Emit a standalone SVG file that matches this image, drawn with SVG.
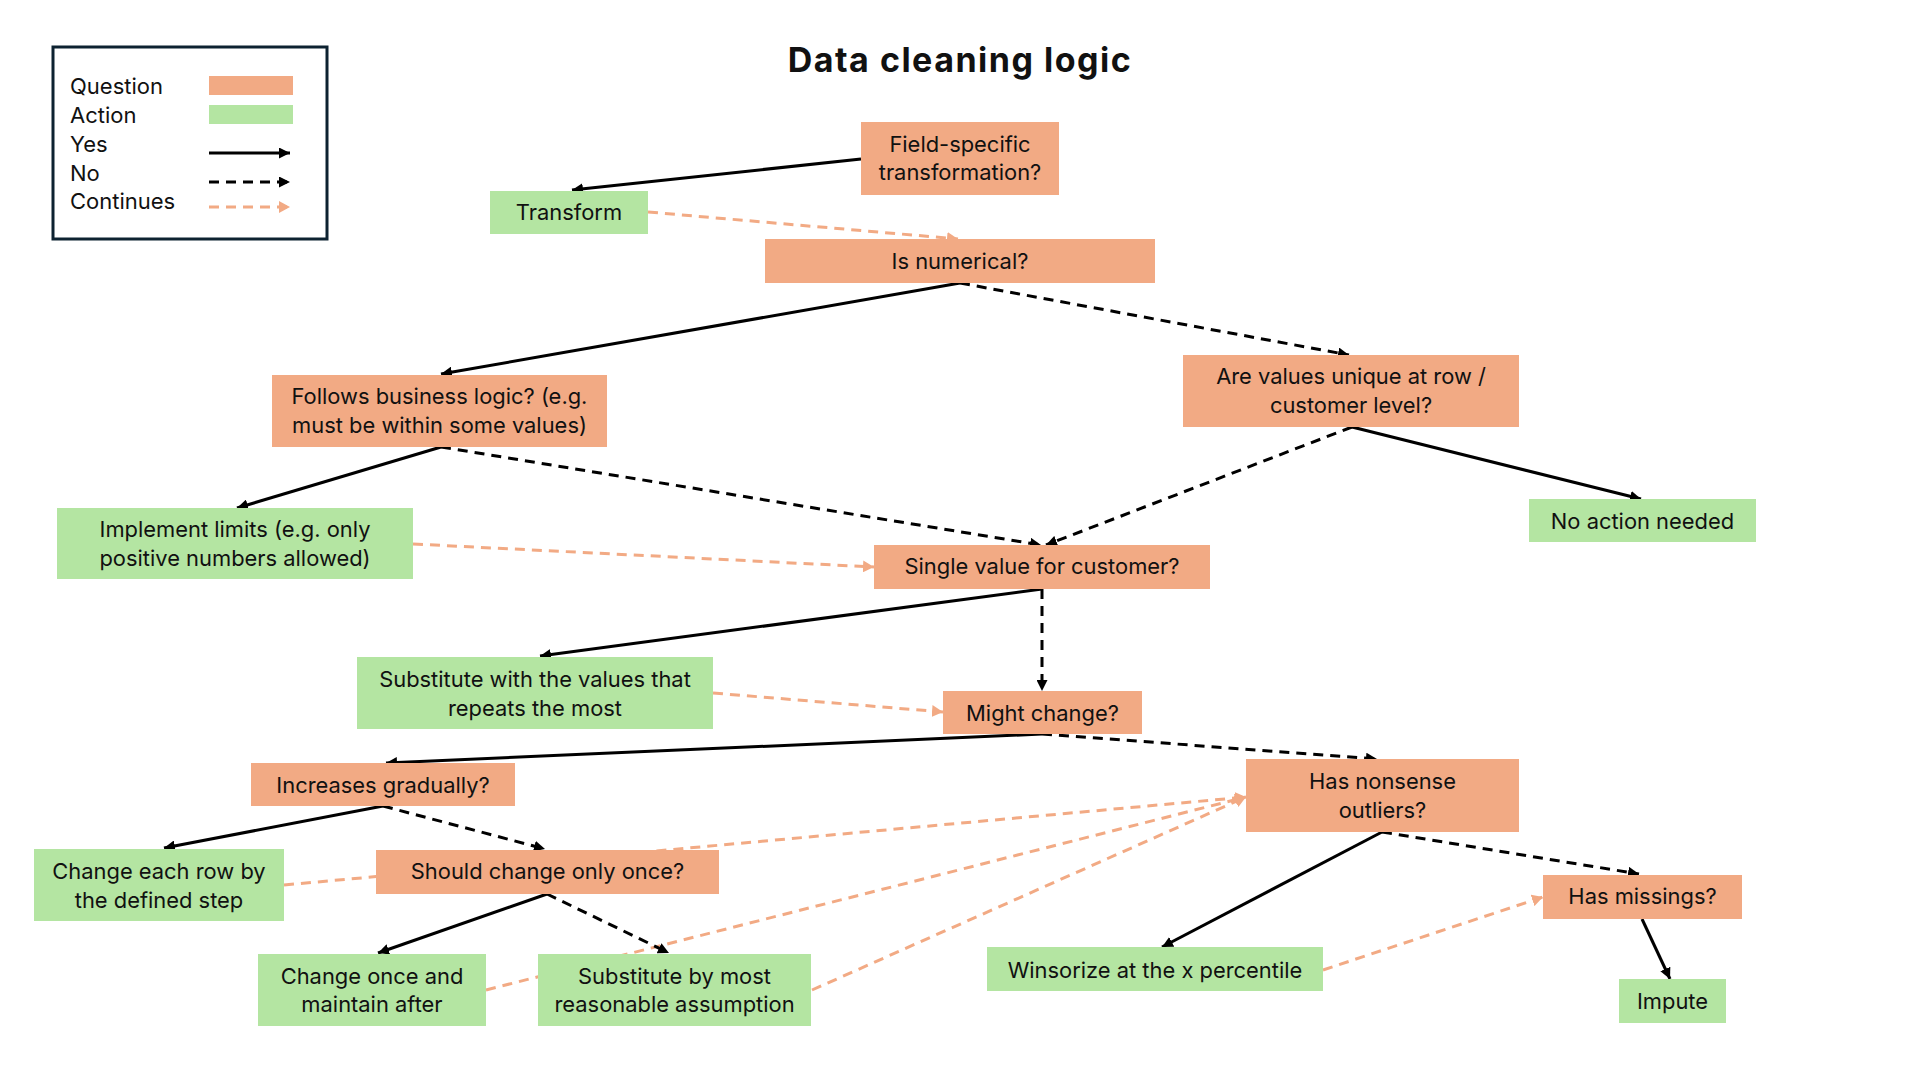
<svg xmlns="http://www.w3.org/2000/svg" width="1918" height="1078" viewBox="0 0 1918 1078">
<style>
.q{fill:#F2AA84}
.a{fill:#B4E5A2}
text{font-family:Inter,"Liberation Sans",sans-serif;font-size:21.9px;fill:#111;text-anchor:middle}
.lg{text-anchor:start;font-size:22px}
.title{font-size:34px;font-weight:bold;letter-spacing:1.5px}
.yes{stroke:#000;stroke-width:3;fill:none;marker-end:url(#mb)}
.no{stroke:#000;stroke-width:3;fill:none;stroke-dasharray:10 7;marker-end:url(#mb)}
.co{stroke:#F2AA84;stroke-width:3;fill:none;stroke-dasharray:10 7;marker-end:url(#mp)}
</style>
<defs>
<marker id="mb" markerUnits="userSpaceOnUse" markerWidth="12" markerHeight="11" refX="11" refY="5.5" orient="auto"><path d="M0,0 L11,5.5 L0,11 z" fill="#000"/></marker>
<marker id="mp" markerUnits="userSpaceOnUse" markerWidth="12" markerHeight="12" refX="11" refY="6" orient="auto"><path d="M0,0 L11,6 L0,12 z" fill="#F2AA84"/></marker>
</defs>
<rect width="1918" height="1078" fill="#fff"/>
<text class="title" x="960" y="72">Data cleaning logic</text>
<g id="legend">
<rect x="53" y="47" width="274" height="192" fill="none" stroke="#0D2231" stroke-width="3"/>
<text class="lg" x="70" y="94">Question</text>
<text class="lg" x="70" y="123">Action</text>
<text class="lg" x="70" y="152">Yes</text>
<text class="lg" x="70" y="181">No</text>
<text class="lg" x="70" y="209">Continues</text>
<rect class="q" x="209" y="76" width="84" height="19"/>
<rect class="a" x="209" y="105" width="84" height="19"/>
<line class="yes" x1="209" y1="153" x2="290" y2="153"/>
<line class="no" x1="209" y1="182" x2="290" y2="182"/>
<line class="co" x1="209" y1="207" x2="290" y2="207"/>
</g>
<g id="connectors">
<line class="yes" x1="861" y1="159" x2="572" y2="190"/>
<line class="co" x1="648" y1="212" x2="958" y2="239"/>
<line class="yes" x1="960" y1="283" x2="441" y2="374"/>
<line class="no" x1="960" y1="283" x2="1349" y2="355"/>
<line class="yes" x1="441" y1="447" x2="237" y2="508"/>
<line class="no" x1="441" y1="447" x2="1041" y2="545"/>
<line class="co" x1="413" y1="544" x2="874" y2="567"/>
<line class="no" x1="1352" y1="427" x2="1046" y2="545"/>
<line class="yes" x1="1352" y1="427" x2="1641" y2="499"/>
<line class="yes" x1="1042" y1="589" x2="540" y2="656"/>
<line class="no" x1="1042" y1="589" x2="1042" y2="691"/>
<line class="co" x1="713" y1="693" x2="943" y2="712"/>
<line class="yes" x1="1042" y1="734" x2="386" y2="763"/>
<line class="no" x1="1042" y1="734" x2="1377" y2="759"/>
<line class="yes" x1="383" y1="806" x2="164" y2="848"/>
<line class="no" x1="383" y1="806" x2="545" y2="849"/>
<line class="co" x1="284" y1="885" x2="1246" y2="797"/>
<line class="co" x1="486" y1="990" x2="1246" y2="797"/>
<line class="co" x1="812" y1="990" x2="1246" y2="797"/>
<line class="yes" x1="547" y1="894" x2="378" y2="953"/>
<line class="no" x1="547" y1="894" x2="669" y2="953"/>
<line class="yes" x1="1382" y1="832" x2="1162" y2="947"/>
<line class="no" x1="1382" y1="832" x2="1639" y2="874"/>
<line class="co" x1="1323" y1="970" x2="1543" y2="897"/>
<line class="yes" x1="1642" y1="919" x2="1670" y2="979"/>
</g>
<g id="n-field"><rect class="q" x="861" y="122" width="198" height="73"/><text x="960" y="152">Field-specific</text><text x="960" y="180">transformation?</text></g>
<g id="n-transform"><rect class="a" x="490" y="191" width="158" height="43"/><text x="569" y="220">Transform</text></g>
<g id="n-isnum"><rect class="q" x="765" y="239" width="390" height="44"/><text x="960" y="269">Is numerical?</text></g>
<g id="n-follows"><rect class="q" x="272" y="375" width="335" height="72"/><text x="439.5" y="404">Follows business logic? (e.g.</text><text x="439.5" y="433">must be within some values)</text></g>
<g id="n-unique"><rect class="q" x="1183" y="355" width="336" height="72"/><text x="1351" y="384">Are values unique at row /</text><text x="1351" y="413">customer level?</text></g>
<g id="n-noaction"><rect class="a" x="1529" y="499" width="227" height="43"/><text x="1642.5" y="529">No action needed</text></g>
<g id="n-implement"><rect class="a" x="57" y="508" width="356" height="71"/><text x="235" y="537">Implement limits (e.g. only</text><text x="235" y="566">positive numbers allowed)</text></g>
<g id="n-single"><rect class="q" x="874" y="545" width="336" height="44"/><text x="1042" y="574">Single value for customer?</text></g>
<g id="n-subst"><rect class="a" x="357" y="657" width="356" height="72"/><text x="535" y="687">Substitute with the values that</text><text x="535" y="716">repeats the most</text></g>
<g id="n-might"><rect class="q" x="943" y="691" width="199" height="43"/><text x="1042.5" y="721">Might change?</text></g>
<g id="n-increases"><rect class="q" x="251" y="763" width="264" height="43"/><text x="383" y="793">Increases gradually?</text></g>
<g id="n-nonsense"><rect class="q" x="1246" y="759" width="273" height="73"/><text x="1382.5" y="789">Has nonsense</text><text x="1382.5" y="818">outliers?</text></g>
<g id="n-changeeach"><rect class="a" x="34" y="849" width="250" height="72"/><text x="159" y="879">Change each row by</text><text x="159" y="908">the defined step</text></g>
<g id="n-should"><rect class="q" x="376" y="850" width="343" height="44"/><text x="547.5" y="879">Should change only once?</text></g>
<g id="n-changeonce"><rect class="a" x="258" y="954" width="228" height="72"/><text x="372" y="984">Change once and</text><text x="372" y="1012">maintain after</text></g>
<g id="n-substby"><rect class="a" x="538" y="954" width="273" height="72"/><text x="674.5" y="984">Substitute by most</text><text x="674.5" y="1012">reasonable assumption</text></g>
<g id="n-missings"><rect class="q" x="1543" y="875" width="199" height="44"/><text x="1642.5" y="904">Has missings?</text></g>
<g id="n-winsorize"><rect class="a" x="987" y="947" width="336" height="44"/><text x="1155" y="978">Winsorize at the x percentile</text></g>
<g id="n-impute"><rect class="a" x="1619" y="979" width="107" height="44"/><text x="1672.5" y="1009">Impute</text></g>
</svg>
